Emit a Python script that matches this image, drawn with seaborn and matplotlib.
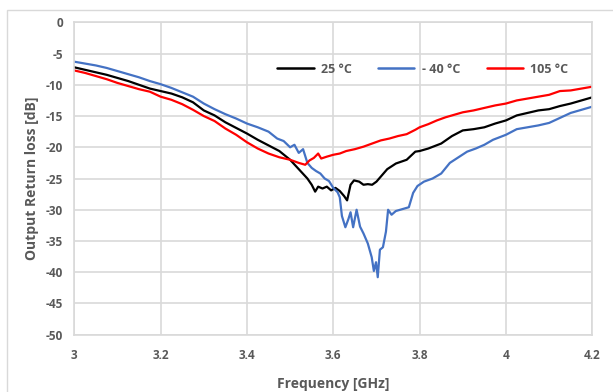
import matplotlib
matplotlib.use("Agg")
import matplotlib.pyplot as plt
import matplotlib.patches as mpatches
import seaborn as sns
import pandas as pd

# ---- data ----
freq_25 = [3.000, 3.025, 3.050, 3.075, 3.100, 3.125, 3.150, 3.175, 3.200, 3.225, 3.250, 3.275,
           3.300, 3.325, 3.350, 3.375, 3.400, 3.425, 3.450, 3.475, 3.500, 3.520, 3.540, 3.550,
           3.558, 3.565, 3.575, 3.585, 3.595, 3.605, 3.615, 3.625, 3.632, 3.640, 3.648, 3.660,
           3.670, 3.680, 3.690, 3.700, 3.710, 3.725, 3.745, 3.770, 3.790, 3.800, 3.820, 3.850,
           3.875, 3.900, 3.925, 3.950, 3.975, 4.000, 4.025, 4.050, 4.075, 4.100, 4.125, 4.150,
           4.175, 4.200]
rl_25 = [-7.2, -7.6, -8.0, -8.4, -8.9, -9.4, -10.0, -10.6, -11.0, -11.4, -12.0, -12.8,
         -14.1, -14.9, -16.0, -16.9, -17.8, -18.8, -19.7, -20.6, -22.0, -23.5, -25.0, -26.0,
         -27.1, -26.3, -26.6, -26.3, -26.9, -26.5, -27.0, -27.8, -28.5, -26.0, -25.3, -25.5,
         -26.0, -25.9, -26.0, -25.5, -24.7, -23.5, -22.6, -22.0, -20.7, -20.6, -20.2, -19.4,
         -18.2, -17.3, -17.1, -16.8, -16.2, -15.7, -14.9, -14.5, -14.1, -13.9, -13.4, -13.0,
         -12.5, -12.0]

freq_m40 = [3.000, 3.025, 3.050, 3.075, 3.100, 3.125, 3.150, 3.175, 3.200, 3.225, 3.250, 3.275,
            3.300, 3.325, 3.350, 3.375, 3.400, 3.425, 3.450, 3.470, 3.485, 3.500, 3.510, 3.520,
            3.530, 3.540, 3.550, 3.560, 3.570, 3.580, 3.590, 3.600, 3.610, 3.615, 3.620, 3.628,
            3.635, 3.640, 3.646, 3.654, 3.662, 3.670, 3.680, 3.689, 3.694, 3.699, 3.703, 3.708,
            3.715, 3.722, 3.727, 3.735, 3.745, 3.755, 3.765, 3.775, 3.785, 3.795, 3.810, 3.830,
            3.850, 3.870, 3.890, 3.910, 3.930, 3.950, 3.970, 4.000, 4.025, 4.050, 4.075, 4.100,
            4.125, 4.150, 4.175, 4.200]
rl_m40 = [-6.3, -6.6, -6.9, -7.3, -7.8, -8.3, -8.8, -9.4, -9.9, -10.5, -11.2, -11.9,
          -13.0, -13.9, -14.7, -15.4, -16.2, -16.8, -17.5, -18.6, -19.0, -20.0, -19.6, -20.9,
          -20.3, -22.5, -23.3, -23.8, -24.2, -25.0, -25.4, -26.5, -27.2, -28.0, -31.0, -32.8,
          -31.5, -30.4, -32.8, -30.0, -32.7, -33.8, -35.4, -37.6, -39.8, -38.4, -40.8, -36.4,
          -36.0, -33.5, -30.0, -30.8, -30.2, -30.0, -29.8, -29.6, -27.3, -26.2, -25.5, -25.0,
          -24.2, -22.5, -21.6, -20.7, -20.2, -19.6, -18.8, -18.0, -17.1, -16.8, -16.5, -16.1,
          -15.3, -14.5, -14.0, -13.5]

freq_105 = [3.000, 3.025, 3.050, 3.075, 3.100, 3.125, 3.150, 3.175, 3.200, 3.225, 3.250, 3.275,
            3.300, 3.325, 3.350, 3.375, 3.400, 3.425, 3.450, 3.475, 3.500, 3.520, 3.535, 3.545,
            3.555, 3.565, 3.572, 3.585, 3.600, 3.615, 3.630, 3.650, 3.670, 3.690, 3.710, 3.730,
            3.750, 3.770, 3.790, 3.800, 3.820, 3.840, 3.860, 3.880, 3.900, 3.925, 3.950, 3.975,
            4.000, 4.025, 4.050, 4.075, 4.100, 4.125, 4.150, 4.175, 4.200]
rl_105 = [-7.7, -8.1, -8.6, -9.1, -9.7, -10.2, -10.7, -11.1, -11.9, -12.4, -13.1, -14.0,
          -15.0, -15.8, -17.0, -18.0, -19.2, -20.2, -21.0, -21.6, -22.0, -22.5, -22.8, -22.1,
          -21.7, -21.0, -21.8, -21.5, -21.2, -21.0, -20.6, -20.3, -19.9, -19.4, -18.9, -18.6,
          -18.2, -17.9, -17.2, -16.8, -16.3, -15.7, -15.2, -14.8, -14.4, -14.1, -13.7, -13.3,
          -13.0, -12.5, -12.2, -11.9, -11.6, -11.0, -10.9, -10.6, -10.3]

series_names = ["25 °C", "- 40 °C", "105 °C"]
series_colors = ["#000000", "#4472C4", "#FF0000"]
x_ticks = [3, 3.2, 3.4, 3.6, 3.8, 4, 4.2]
x_tick_labels = ["3", "3.2", "3.4", "3.6", "3.8", "4", "4.2"]
y_ticks = [0, -5, -10, -15, -20, -25, -30, -35, -40, -45, -50]

frames = []
for name, f, v in zip(series_names, [freq_25, freq_m40, freq_105], [rl_25, rl_m40, rl_105]):
    frames.append(pd.DataFrame({"Frequency": f, "RL": v, "Series": name}))
df = pd.concat(frames, ignore_index=True)

sns.set_style("white")
plt.rcParams["font.family"] = ["Open Sans", "DejaVu Sans"]

fig = plt.figure(figsize=(6.13, 3.92), dpi=100)
ax = fig.add_axes([0.1212, 0.1462, 0.8450, 0.7968])

sns.lineplot(data=df, x="Frequency", y="RL", hue="Series", hue_order=series_names,
             palette=series_colors, linewidth=1.6, ax=ax, sort=False, estimator=None)

ax.set_xlim(3, 4.2)
ax.set_ylim(-50, 0)
ax.set_xticks(x_ticks)
ax.set_xticklabels(x_tick_labels)
ax.set_yticks(y_ticks)
ax.set_yticklabels([str(t) for t in y_ticks])
ax.grid(True, color="#D9D9D9", linewidth=1.2)
ax.set_axisbelow(True)
for s in ax.spines.values():
    s.set_color("#D9D9D9")
    s.set_linewidth(1.2)

tick_color = "#595959"
ax.tick_params(axis="both", length=0, labelsize=8.5, labelcolor=tick_color)
ax.tick_params(axis="x", pad=10)
ax.tick_params(axis="y", pad=8)
for lbl in ax.get_xticklabels() + ax.get_yticklabels():
    lbl.set_fontweight("bold")

ax.set_xlabel("Frequency [GHz]", fontsize=10, color=tick_color, fontweight="bold", labelpad=11)
ax.set_ylabel("Output Return loss [dB]", fontsize=10, color=tick_color, fontweight="bold", labelpad=5)

leg = ax.legend(loc="center", bbox_to_anchor=(0.673, 0.85), ncol=3, frameon=False,
                fontsize=9, handlelength=2.9, columnspacing=2.1, handletextpad=0.6)
for t in leg.get_texts():
    t.set_color(tick_color)
    t.set_fontweight("bold")
for h in leg.get_lines():
    h.set_linewidth(1.8)

# outer chart frame (Excel style)
fig.patches.append(mpatches.Rectangle((7 / 613, -0.05), 1.2, 1 - 10 / 392 + 0.05,
                                      transform=fig.transFigure, fill=False,
                                      edgecolor="#D9D9D9", linewidth=1.0))

fig.savefig("out.png", dpi=100)
